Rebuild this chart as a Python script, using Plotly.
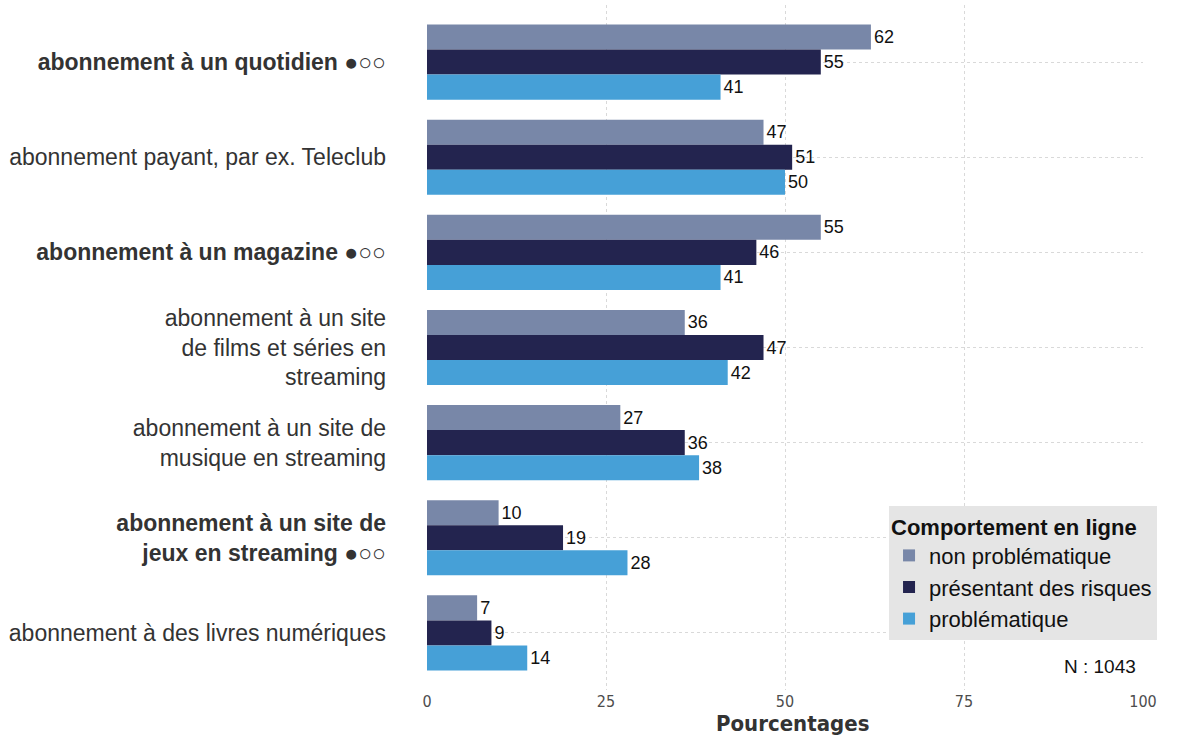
import plotly.graph_objects as go

categories = [
    "<b>abonnement à un quotidien</b> ●○○",
    "abonnement payant, par ex. Teleclub",
    "<b>abonnement à un magazine</b> ●○○",
    "abonnement à un site<br>de films et séries en<br>streaming",
    "abonnement à un site de<br>musique en streaming",
    "<b>abonnement à un site de<br>jeux en streaming</b> ●○○",
    "abonnement à des livres numériques",
]
series_names = ["non problématique", "présentant des risques", "problématique"]
non_problematique = [62, 47, 55, 36, 27, 10, 7]
presentant_risques = [55, 51, 46, 47, 36, 19, 9]
problematique = [41, 50, 41, 42, 38, 28, 14]
colors = ["#7887A8", "#23244F", "#46A0D7"]
x_ticks = [0, 25, 50, 75, 100]

narrow = "DejaVu Sans Condensed, Liberation Sans Narrow, Liberation Sans"

fig = go.Figure()
for name, vals, col in zip(series_names, [non_problematique, presentant_risques, problematique], colors):
    fig.add_trace(go.Bar(
        y=categories, x=vals, name=name, orientation="h",
        marker=dict(color=col, line=dict(width=0)),
        text=[str(v) for v in vals], textposition="outside",
        textfont=dict(size=18, color="#111111", family="Liberation Sans"),
        cliponaxis=False,
    ))

fig.update_layout(
    width=1191, height=740,
    margin=dict(l=427, r=48, t=5, b=50, autoexpand=False),
    barmode="group", bargap=0.21, bargroupgap=0,
    plot_bgcolor="white", paper_bgcolor="white",
    font=dict(family="Liberation Sans", size=22, color="#333333"),
    xaxis=dict(
        range=[0, 100], tickvals=x_ticks, ticktext=[str(t) for t in x_ticks],
        showgrid=True, gridcolor="#d9d9d9", griddash="dot", gridwidth=1,
        zeroline=False, showline=False, ticks="", automargin=False,
        tickfont=dict(family=narrow, size=16, color="#4d4d4d"),
    ),
    yaxis=dict(
        autorange=False, range=[6.6, -0.6], automargin=False,
        showgrid=True, gridcolor="#d9d9d9", griddash="dot", gridwidth=1,
        zeroline=False, showline=False, ticks="", ticklabelstandoff=40,
        tickfont=dict(size=23, color="#333333"),
    ),
    legend=dict(
        title=dict(text="<b>Comportement en ligne</b>", font=dict(size=22, color="#111111")),
        font=dict(size=22, color="#111111"),
        bgcolor="#E5E5E5",
        x=1.0196, xanchor="right", y=0.073, yanchor="bottom",
        traceorder="normal", itemsizing="constant",
        tracegroupgap=0, itemwidth=30,
    ),
    showlegend=True,
)

fig.add_annotation(
    text="<b>Pourcentages</b>", x=0.51, xref="paper", y=-0.0496, yref="paper",
    xanchor="center", yanchor="middle", showarrow=False,
    font=dict(family=narrow, size=22, color="#333333"),
)
fig.add_annotation(
    text="N : 1043", x=0.993, xref="paper", y=0.0336, yref="paper",
    xanchor="right", yanchor="middle", showarrow=False,
    font=dict(size=19, color="#111111"),
)

fig.write_html(
    "out.html",
    config={"displayModeBar": False},
    post_script="document.body.style.margin='0';document.body.style.overflow='hidden';",
)
